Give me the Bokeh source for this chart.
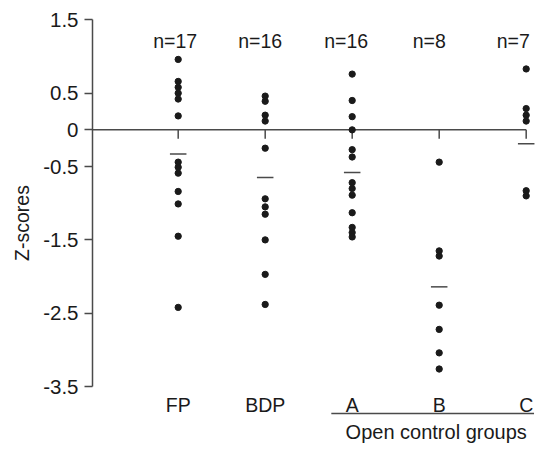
from bokeh.plotting import figure
from bokeh.models import FixedTicker, ColumnDataSource, Range1d
from bokeh.core.properties import value
from bokeh.embed import file_html
from bokeh.resources import INLINE

# ---- data ----
groups = ["FP", "BDP", "A", "B", "C"]
n_labels = ["n=17", "n=16", "n=16", "n=8", "n=7"]
fp = [0.96, 0.66, 0.58, 0.50, 0.42, 0.19, -0.44, -0.51, -0.59, -0.84, -1.01, -1.45, -2.42]
bdp = [0.46, 0.39, 0.20, 0.12, -0.25, -0.94, -1.05, -1.15, -1.50, -1.97, -2.38]
grp_a = [0.76, 0.40, 0.18, 0.00, -0.27, -0.37, -0.72, -0.80, -0.89, -1.13, -1.33, -1.40, -1.46]
grp_b = [-0.44, -1.65, -1.72, -2.39, -2.72, -3.04, -3.26]
grp_c = [0.83, 0.29, 0.20, 0.12, -0.83, -0.90]
means = [-0.33, -0.65, -0.58, -2.14, -0.19]
y_ticks = [1.5, 0.5, 0, -0.5, -1.5, -2.5, -3.5]
y_tick_labels = ["1.5", "0.5", "0", "-0.5", "-1.5", "-2.5", "-3.5"]
y_title = "Z-scores"
bracket_label = "Open control groups"
bracket_groups = ["A", "B", "C"]

FONT = "Liberation Sans"
INK = "#1a1a1a"
LINE = "#4a4a4a"

xs = list(range(len(groups)))
series = [fp, bdp, grp_a, grp_b, grp_c]

p = figure(width=535, height=445, output_backend="svg", toolbar_location=None,
           x_axis_location=None, y_axis_location="left",
           x_range=Range1d(-0.985, 4.107), y_range=Range1d(-4.3027, 1.7632),
           min_border_left=92, min_border_right=0, min_border_top=0, min_border_bottom=0)
p.outline_line_color = None
p.grid.visible = False
p.background_fill_color = "white"

ax = p.yaxis[0]
ax.ticker = FixedTicker(ticks=y_ticks)
ax.major_label_overrides = {t: s for t, s in zip(y_ticks, y_tick_labels)}
ax.bounds = (min(y_ticks), max(y_ticks))
ax.minor_tick_line_color = None
ax.major_tick_in = 0
ax.major_tick_out = 8
ax.major_tick_line_color = LINE
ax.major_tick_line_width = 1.5
ax.axis_line_color = LINE
ax.axis_line_width = 1.5
ax.major_label_text_font = FONT
ax.major_label_text_font_size = "20.5px"
ax.major_label_text_color = INK
ax.major_label_standoff = 6
ax.axis_label = y_title
ax.axis_label_text_font = FONT
ax.axis_label_text_font_size = "19.5px"
ax.axis_label_text_font_style = "normal"
ax.axis_label_text_color = INK
ax.axis_label_standoff = 7

# zero line and its ticks
p.segment(x0=[p.x_range.start], y0=[0], x1=[xs[-1]], y1=[0], line_color=LINE, line_width=1.5)
p.segment(x0=xs, y0=[0] * len(xs), x1=xs, y1=[-0.12] * len(xs), line_color=LINE, line_width=1.5)

# dots
dx, dy = [], []
for x, vals in zip(xs, series):
    dx += [x] * len(vals)
    dy += vals
p.scatter(dx, dy, size=6.3, color=INK, line_color=INK)

# mean lines
p.segment(x0=[x - 0.095 for x in xs], y0=means, x1=[x + 0.095 for x in xs], y1=means,
          line_color=LINE, line_width=1.5)

# n labels
src_n = ColumnDataSource(dict(x=xs, y=[1.2066] * len(xs), t=n_labels, off=[-3, -5, -6, -10, -13]))
p.text(x="x", y="y", text="t", x_offset="off", source=src_n, text_font=value(FONT),
       text_font_size="19.5px", text_align="center", text_baseline="alphabetic", text_color=INK)

# category labels
p.text(x=xs, y=[-3.754] * len(xs), text=groups, text_font=value(FONT), text_font_size="19.5px",
       text_align="center", text_baseline="alphabetic", text_color=INK)

# bracket for open control groups
bi = [groups.index(g) for g in bracket_groups]
p.segment(x0=[bi[0] - 0.24], y0=[-3.868], x1=[bi[-1] + 0.09], y1=[-3.868], line_color=LINE, line_width=1.5)
p.text(x=[sum(bi) / len(bi)], y=[-4.12], text=[bracket_label], x_offset=-3, text_font=value(FONT),
       text_font_size="20px", text_align="center", text_baseline="alphabetic", text_color=INK)

open("out.html", "w").write(file_html(p, INLINE))
